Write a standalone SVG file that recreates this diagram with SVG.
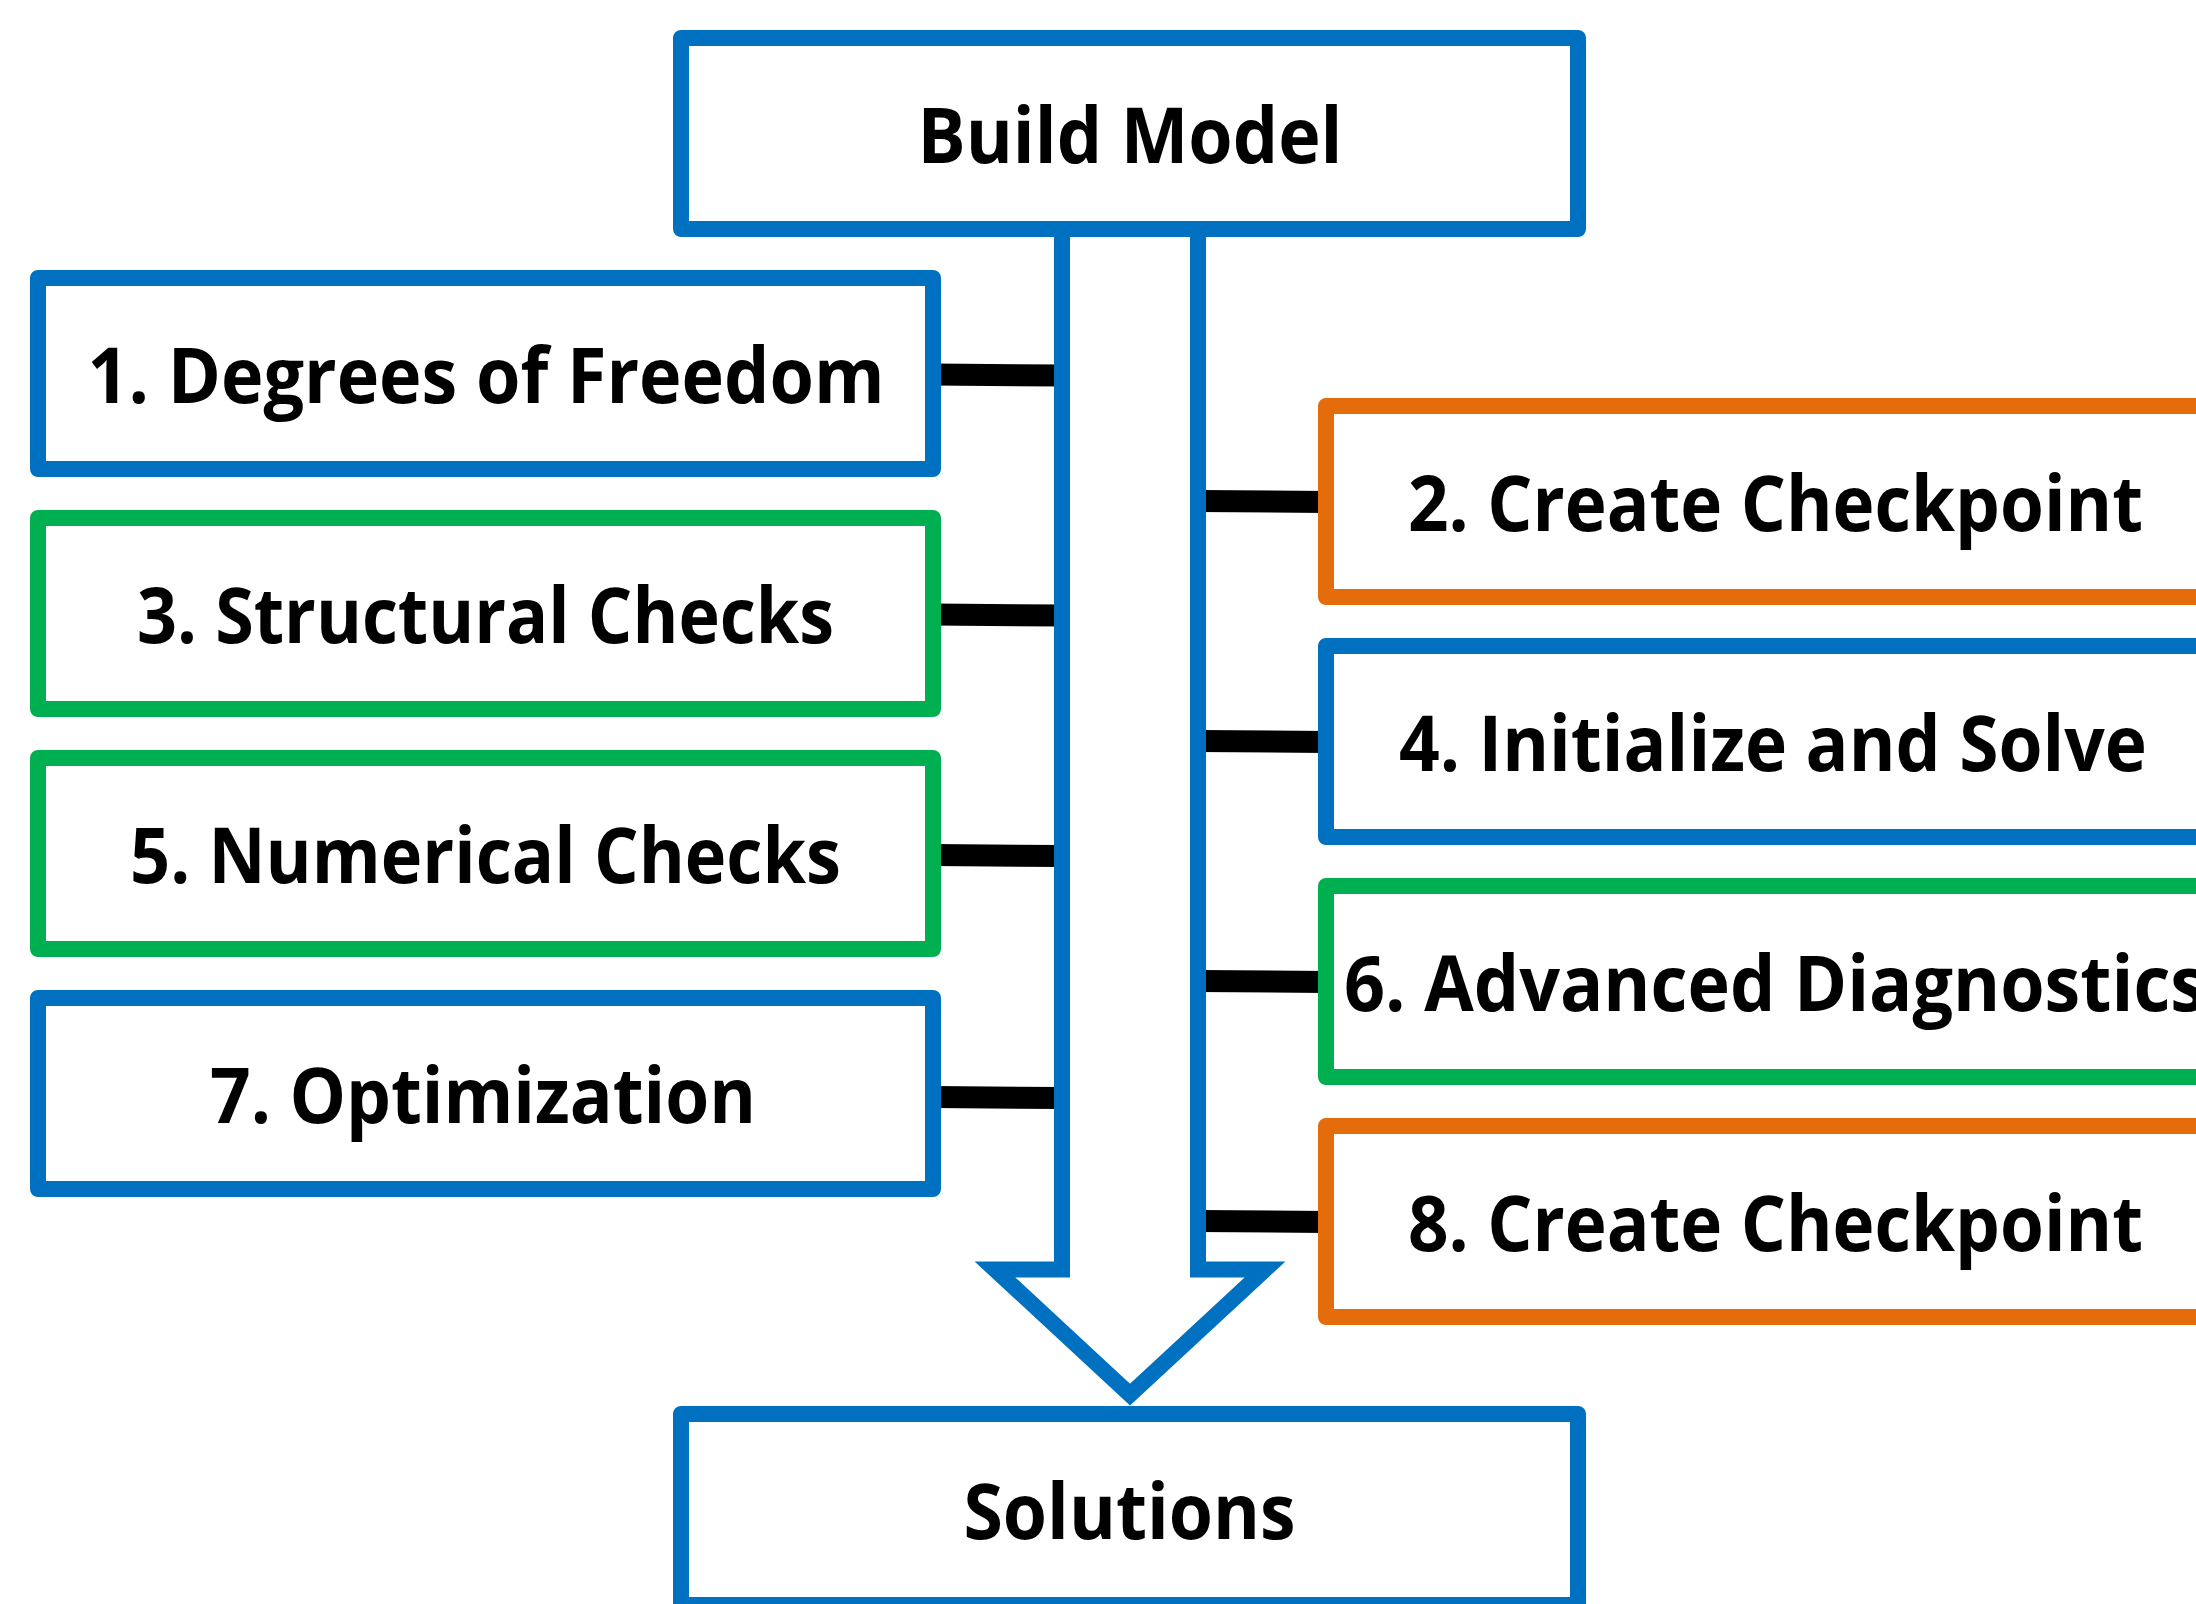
<svg xmlns="http://www.w3.org/2000/svg" width="2196" height="1604" viewBox="0 0 2196 1604">
  <style>
    .box { fill: #ffffff; stroke-width: 16; stroke-linejoin: round; }
    .blue { stroke: #0070C0; }
    .green { stroke: #00B050; }
    .orange { stroke: #E46C0A; }
    .label { font-family: "Open Sans", "Noto Sans", "Liberation Sans", sans-serif; font-weight: 700; font-size: 77px; fill: #000000; text-anchor: middle; }
    .link { stroke: #000000; stroke-width: 22; fill: none; }
    .flow { fill: #ffffff; stroke: #0070C0; stroke-width: 16; stroke-linejoin: miter; stroke-miterlimit: 10; }
  </style>
  <rect x="0" y="0" width="2196" height="1604" fill="#ffffff"/>

  <!-- horizontal ties between the steps and the central flow arrow -->
  <g id="connectors">
    <line class="link" x1="933" y1="374.5" x2="1062" y2="375.5"/>
    <line class="link" x1="933" y1="614.5" x2="1062" y2="615.5"/>
    <line class="link" x1="933" y1="855" x2="1062" y2="856"/>
    <line class="link" x1="933" y1="1097" x2="1062" y2="1098"/>
    <line class="link" x1="1198" y1="501" x2="1326" y2="502"/>
    <line class="link" x1="1198" y1="741" x2="1326" y2="742"/>
    <line class="link" x1="1198" y1="981" x2="1326" y2="982"/>
    <line class="link" x1="1198" y1="1221" x2="1326" y2="1222"/>
    <!-- block arrow from Build Model down to Solutions -->
    <polygon id="flow-arrow" class="flow" points="1062,229 1062,1269.5 995,1269.5 1130,1394.5 1265,1269.5 1198,1269.5 1198,229"/>
  </g>

  <g id="build-model">
    <rect class="box blue" x="681" y="38" width="897" height="191"/>
    <text class="label" x="1130" y="163" textLength="425" lengthAdjust="spacingAndGlyphs">Build Model</text>
  </g>

  <g id="step-1">
    <rect class="box blue" x="38" y="278" width="895" height="191"/>
    <text class="label" x="486" y="403" textLength="797" lengthAdjust="spacingAndGlyphs">1. Degrees of Freedom</text>
  </g>
  <g id="step-3">
    <rect class="box green" x="38" y="518" width="895" height="191"/>
    <text class="label" x="485.5" y="642.5" textLength="697" lengthAdjust="spacingAndGlyphs">3. Structural Checks</text>
  </g>
  <g id="step-5">
    <rect class="box green" x="38" y="758" width="895" height="191"/>
    <text class="label" x="485.5" y="882.5" textLength="711" lengthAdjust="spacingAndGlyphs">5. Numerical Checks</text>
  </g>
  <g id="step-7">
    <rect class="box blue" x="38" y="998" width="895" height="191"/>
    <text class="label" x="483" y="1123" textLength="546" lengthAdjust="spacingAndGlyphs">7. Optimization</text>
  </g>

  <g id="step-2">
    <rect class="box orange" x="1326" y="406" width="896" height="191"/>
    <text class="label" x="1775.5" y="531" textLength="735" lengthAdjust="spacingAndGlyphs">2. Create Checkpoint</text>
  </g>
  <g id="step-4">
    <rect class="box blue" x="1326" y="646" width="896" height="191"/>
    <text class="label" x="1773" y="771" textLength="748" lengthAdjust="spacingAndGlyphs">4. Initialize and Solve</text>
  </g>
  <g id="step-6">
    <rect class="box green" x="1326" y="886" width="896" height="191"/>
    <text class="label" x="1775" y="1011" textLength="862" lengthAdjust="spacingAndGlyphs">6. Advanced Diagnostics</text>
  </g>
  <g id="step-8">
    <rect class="box orange" x="1326" y="1126" width="896" height="191"/>
    <text class="label" x="1775.5" y="1251" textLength="735" lengthAdjust="spacingAndGlyphs">8. Create Checkpoint</text>
  </g>

  <g id="solutions">
    <rect class="box blue" x="681" y="1414" width="897" height="191"/>
    <text class="label" x="1129.5" y="1539" textLength="332" lengthAdjust="spacingAndGlyphs">Solutions</text>
  </g>
</svg>
